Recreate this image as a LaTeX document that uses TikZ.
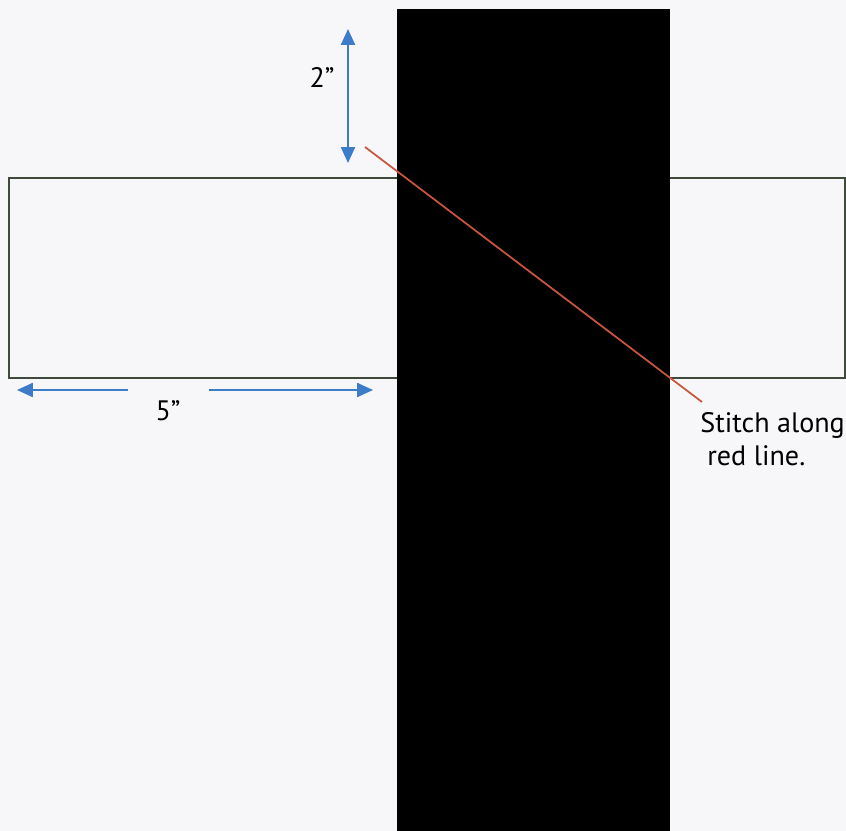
\documentclass[tikz,border=0pt]{standalone}
\usepackage{fontspec}
\setmainfont{PT Sans}
\usetikzlibrary{arrows.meta}
\definecolor{dimblue}{HTML}{3D7CC9}
\definecolor{stitchred}{HTML}{C9553E}
\definecolor{edgegreen}{HTML}{3F4A3A}
\definecolor{paper}{HTML}{F7F7F9}
\begin{document}
\begin{tikzpicture}[x=0.02cm,y=-0.02cm,
  dim/.style={dimblue,line width=0.9pt,-{Triangle[length=9pt,width=8pt]}},
  lbl/.style={font=\fontsize{16}{18}\selectfont,inner sep=0pt}]
\useasboundingbox (0,0) rectangle (846,831);
\fill[paper] (0,0) rectangle (846,831);
\draw[edgegreen,line width=0.8pt] (9,178) rectangle (845,378);
\fill[black] (397,9) rectangle (670,831);
\coordinate (redtop) at (365,147);
\coordinate (redend) at (702,402);
\draw[stitchred,line width=1pt] (redtop) -- (redend);
\coordinate (tmid) at (348,95);
\coordinate (ttop) at (348,29);
\coordinate (tbot) at (348,163);
\draw[dim] (tmid) -- (ttop);
\draw[dim] (tmid) -- (tbot);
\node[lbl] (two) at (322,77) {2''};
\coordinate (lgap) at (128,390);
\coordinate (rgap) at (209,390);
\coordinate (ltip) at (17,390);
\coordinate (rtip) at (373,390);
\draw[dim] (lgap) -- (ltip);
\draw[dim] (rgap) -- (rtip);
\node[lbl] (five) at (168,411) {5''};
\node[lbl,anchor=north west,align=left] (stitch) at (700,412) {Stitch along\\[1pt]\hspace{4pt}red line.};
\end{tikzpicture}
\end{document}
